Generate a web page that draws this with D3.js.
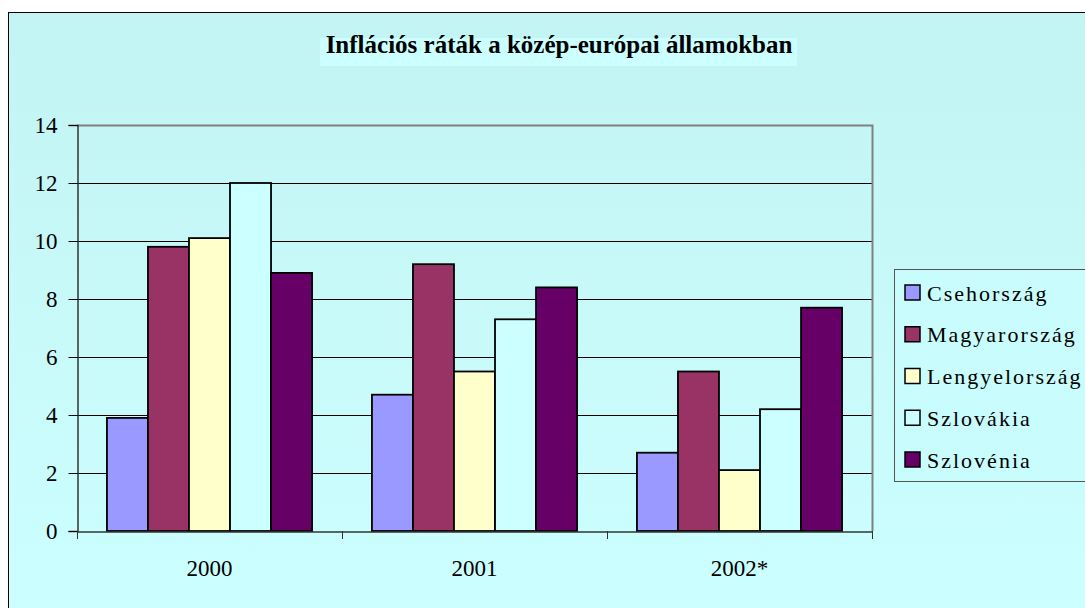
<!DOCTYPE html>
<html>
<head>
<meta charset="utf-8">
<script src="https://cdn.jsdelivr.net/npm/d3@7"></script>
<style>
  body { margin: 0; background: #fff; }
  svg { display: block; font-family: "Liberation Serif", "Times New Roman", serif; }
</style>
</head>
<body>
<div id="chart"></div>
<script>
let years = ["2000", "2001", "2002*"];
let countries = ["Csehország", "Magyarország", "Lengyelország", "Szlovákia", "Szlovénia"];
let colors = ["#9999ff", "#993366", "#ffffcc", "#ccffff", "#660066"];
let csehorszag = [3.9, 4.7, 2.7];
let magyarorszag = [9.8, 9.2, 5.5];
let lengyelorszag = [10.1, 5.5, 2.1];
let szlovakia = [12.0, 7.3, 4.2];
let szlovenia = [8.9, 8.4, 7.7];
let yTicks = [0, 2, 4, 6, 8, 10, 12, 14];
let title = "Inflációs ráták a közép-európai államokban";

let series = [csehorszag, magyarorszag, lengyelorszag, szlovakia, szlovenia];

let width = 1085, height = 608;
let plot = { left: 77, right: 872, top: 125, bottom: 531 };
let serif = "'Liberation Serif', 'Times New Roman', serif";

let svg = d3.select("#chart").append("svg")
    .attr("width", width)
    .attr("height", height);

let grad = svg.append("defs").append("linearGradient")
    .attr("id", "bg")
    .attr("x1", 0).attr("y1", 0).attr("x2", 0).attr("y2", 1);
grad.append("stop").attr("offset", "0%").attr("stop-color", "#c3f4f4");
grad.append("stop").attr("offset", "100%").attr("stop-color", "#ccffff");

// chart area with border (runs off the right and bottom edges)
svg.append("rect")
    .attr("x", 8.5).attr("y", 12.5)
    .attr("width", width).attr("height", height)
    .style("fill", "url(#bg)")
    .style("stroke", "#000")
    .style("stroke-width", 1);

// title
svg.append("rect")
    .attr("x", 320).attr("y", 38)
    .attr("width", 477).attr("height", 28)
    .style("fill", "#ccffff");
svg.append("text")
    .attr("x", 559).attr("y", 53)
    .attr("text-anchor", "middle")
    .style("font-family", serif)
    .style("font-weight", "bold")
    .style("font-size", "25px")
    .text(title);

let x = d3.scaleBand()
    .domain(years)
    .range([plot.left, plot.right])
    .paddingInner(0)
    .paddingOuter(0);

// 5 bars per group, ~30px free space on each side
let xInner = d3.scaleBand()
    .domain(countries)
    .range([0, x.bandwidth()])
    .paddingOuter(0.73)
    .paddingInner(0);

let y = d3.scaleLinear()
    .domain([0, 14])
    .range([plot.bottom, plot.top]);

// gridlines
svg.append("g").selectAll("line")
    .data(yTicks.filter(d => d > 0 && d < 14))
    .join("line")
    .attr("x1", plot.left).attr("x2", plot.right)
    .attr("y1", d => Math.round(y(d)) + 0.5)
    .attr("y2", d => Math.round(y(d)) + 0.5)
    .style("stroke", "#000")
    .style("stroke-width", 1);

// plot border: top and right in gray
svg.append("path")
    .attr("d", `M${plot.left},${plot.top + 0.5}H${plot.right + 0.5}V${plot.bottom}`)
    .style("fill", "none")
    .style("stroke", "#808080")
    .style("stroke-width", 2);

// bars
svg.append("g").selectAll("g")
    .data(years)
    .join("g")
    .attr("transform", d => "translate(" + x(d) + ",0)")
    .selectAll("rect")
    .data((d, i) => countries.map((c, j) => ({ c: c, v: series[j][i], color: colors[j] })))
    .join("rect")
    .attr("x", d => xInner(d.c))
    .attr("y", d => y(d.v))
    .attr("width", xInner.bandwidth())
    .attr("height", d => y(0) - y(d.v))
    .style("fill", d => d.color)
    .style("stroke", "#000")
    .style("stroke-width", 1.8);

// y axis
let yAxis = svg.append("g")
    .attr("transform", "translate(" + (plot.left + 0.5) + ",0)")
    .call(d3.axisLeft(y).tickValues(yTicks).tickSize(9).tickPadding(11).tickFormat(d3.format("d")));
yAxis.select(".domain").attr("stroke", "#333").attr("stroke-width", 1.5);
yAxis.selectAll(".tick line").attr("stroke", "#000");
yAxis.selectAll("text")
    .style("font-family", serif)
    .style("font-size", "23px")
    .attr("fill", "#000");

// x axis
let xAxis = svg.append("g")
    .attr("transform", "translate(0," + (plot.bottom + 0.5) + ")")
    .call(d3.axisBottom(x).tickSize(0).tickPadding(28));
xAxis.select(".domain").attr("stroke", "#333").attr("stroke-width", 1.5);
xAxis.selectAll("text")
    .style("font-family", serif)
    .style("font-size", "23px")
    .attr("fill", "#000");
// category separators
svg.append("g").selectAll("line")
    .data([plot.left, ...years.map(d => x(d) + x.bandwidth())])
    .join("line")
    .attr("x1", d => Math.round(d) + 0.5).attr("x2", d => Math.round(d) + 0.5)
    .attr("y1", plot.bottom).attr("y2", plot.bottom + 8)
    .style("stroke", "#333")
    .style("stroke-width", 1);

// legend
let legend = svg.append("g").attr("transform", "translate(894,269)");
legend.append("rect")
    .attr("x", 0.5).attr("y", 0.5)
    .attr("width", 300).attr("height", 212)
    .style("fill", "#c9fcfc")
    .style("stroke", "#555")
    .style("stroke-width", 1);

let legendY = d3.scalePoint()
    .domain(countries)
    .range([23.5, 190.5]);

let items = legend.selectAll(".item")
    .data(countries)
    .join("g")
    .attr("class", "item")
    .attr("transform", d => "translate(0," + legendY(d) + ")");
items.append("rect")
    .attr("x", 11).attr("y", -7.5)
    .attr("width", 15).attr("height", 15)
    .style("fill", (d, i) => colors[i])
    .style("stroke", "#000")
    .style("stroke-width", 1.5);
items.append("text")
    .attr("x", 33).attr("y", 8)
    .style("font-family", serif)
    .style("font-size", "22px")
    .style("letter-spacing", "2px")
    .text(d => d);
</script>
</body>
</html>
